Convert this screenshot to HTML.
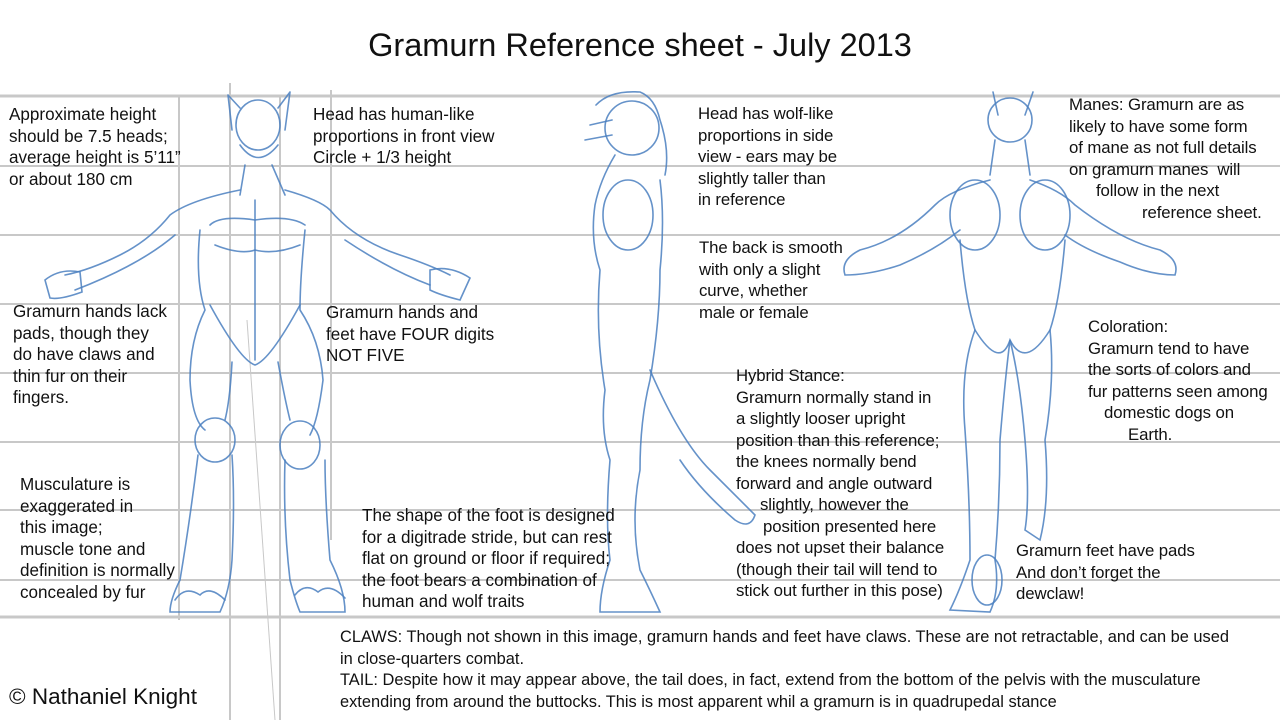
<!DOCTYPE html>
<html><head><meta charset="utf-8"><style>
body{margin:0;width:1280px;height:720px;background:#fff;overflow:hidden;position:relative;font-family:"Liberation Sans",sans-serif;color:#111}
.t{position:absolute;font-size:17.1px;line-height:21.5px;white-space:nowrap}
.n{font-size:16.8px;letter-spacing:-0.1px}
svg{position:absolute;left:0;top:0}
</style></head><body>
<svg width="1280" height="720">
<g stroke="#c8c8c8" stroke-width="2">
<line x1="0" y1="96" x2="1280" y2="96" stroke-width="3"/>
<line x1="0" y1="166" x2="1280" y2="166"/>
<line x1="0" y1="235" x2="1280" y2="235"/>
<line x1="0" y1="304" x2="1280" y2="304"/>
<line x1="0" y1="373" x2="1280" y2="373"/>
<line x1="0" y1="442" x2="1280" y2="442"/>
<line x1="0" y1="510" x2="1280" y2="510"/>
<line x1="0" y1="580" x2="1280" y2="580"/>
<line x1="0" y1="617" x2="1280" y2="617" stroke-width="3"/>
<line x1="179" y1="96" x2="179" y2="620"/>
<line x1="230" y1="83" x2="230" y2="720"/>
<line x1="280" y1="96" x2="280" y2="720"/>
<line x1="331" y1="90" x2="331" y2="540"/>
<line x1="247" y1="320" x2="275" y2="720" stroke-width="1"/>
</g>
<g fill="none" stroke="#4a7fc0" stroke-width="1.6" stroke-opacity="0.85" stroke-linecap="round">
<path d="M228 95 L240 108 M290 92 L278 108 M228 95 L232 130 M290 92 L285 130"/>
<ellipse cx="258" cy="125" rx="22" ry="25"/>
<path d="M240 145 Q258 170 278 145 M245 165 L240 195 M272 165 L285 195"/>
<path d="M240 190 Q190 200 170 215 Q150 240 120 255 Q90 270 65 275 M285 190 Q320 200 330 210 Q355 240 400 255 Q430 265 450 275"/>
<path d="M175 235 Q140 265 75 290 M345 240 Q390 270 430 285"/>
<path d="M45 280 Q60 268 80 272 L82 292 Q60 300 50 298 Z M430 270 Q450 265 470 278 L460 300 Q440 295 430 290 Z"/>
<path d="M200 230 Q195 280 205 310 Q190 340 190 380 Q192 420 205 430 M305 230 Q300 280 300 310 Q320 340 323 380 Q318 420 310 435"/>
<path d="M210 225 Q220 215 255 220 Q290 215 305 225 M215 245 Q240 255 255 250 Q275 255 300 245"/>
<path d="M210 305 Q240 360 255 365 Q270 360 300 305 M255 200 L255 360"/>
<path d="M232 362 Q230 400 225 420 M278 362 Q285 400 290 420"/>
<ellipse cx="215" cy="440" rx="20" ry="22"/><ellipse cx="300" cy="445" rx="20" ry="24"/>
<path d="M198 455 Q190 520 180 580 Q170 600 170 612 L220 612 Q230 590 232 560 Q235 500 232 455"/>
<path d="M285 460 Q283 520 290 580 Q295 600 300 612 L345 612 Q345 590 330 560 Q325 500 325 460"/>
<path d="M175 600 Q185 585 200 595 Q210 585 225 600 M295 595 Q305 582 318 592 Q330 582 345 598"/>
<circle cx="632" cy="128" r="27"/>
<path d="M590 125 L612 120 M585 140 L612 135 M596 105 Q610 90 640 92 Q655 98 660 120 Q670 150 665 175"/>
<path d="M615 155 Q600 180 595 205 Q590 240 600 270 Q595 330 605 390 Q600 430 610 460 Q605 520 610 560 Q600 590 600 612 L660 612 Q650 590 640 570 Q630 520 640 470 Q640 420 650 380 Q660 320 660 270 Q665 220 660 180"/>
<ellipse cx="628" cy="215" rx="25" ry="35"/>
<path d="M650 370 Q680 440 710 470 Q740 500 755 515 Q750 530 735 520 Q700 490 680 460"/>
<circle cx="1010" cy="120" r="22"/>
<path d="M993 92 L998 115 M1033 92 L1025 115 M995 140 L990 175 M1025 140 L1030 175"/>
<path d="M990 180 Q950 190 935 205 Q900 240 860 250 Q840 260 845 275 Q870 275 900 265 Q935 250 960 230 M1030 180 Q1060 190 1075 205 Q1120 240 1160 250 Q1180 260 1175 275 Q1150 275 1120 262 Q1085 250 1065 235"/>
<ellipse cx="975" cy="215" rx="25" ry="35"/><ellipse cx="1045" cy="215" rx="25" ry="35"/>
<path d="M960 240 Q965 300 975 330 Q960 370 965 430 Q970 500 970 560 Q960 590 950 610 L990 612 Q1000 590 995 560 Q1000 500 1000 440 Q1005 380 1010 340 Q1020 380 1025 440 Q1030 500 1025 530 L1040 540 Q1050 500 1045 440 Q1055 380 1050 330 Q1060 300 1065 240"/>
<path d="M975 330 Q1000 370 1010 340 Q1025 370 1050 330"/>
<ellipse cx="987" cy="580" rx="15" ry="25"/>
</g>
</svg>
<div style="position:absolute;left:0;width:1280px;top:27px;text-align:center;font-size:32.5px;color:#111">Gramurn Reference sheet - July 2013</div>
<div class="t" style="left:9px;top:104px">Approximate height<br>should be 7.5 heads;<br>average height is 5’11”<br>or about 180 cm</div>
<div class="t" style="left:313px;top:104px">Head has human-like<br>proportions in front view<br>Circle + 1/3 height</div>
<div class="t" style="left:13px;top:301px">Gramurn hands lack<br>pads, though they<br>do have claws and<br>thin fur on their<br>fingers.</div>
<div class="t" style="left:326px;top:302px">Gramurn hands and<br>feet have FOUR digits<br>NOT FIVE</div>
<div class="t" style="left:20px;top:474px">Musculature is<br>exaggerated in<br>this image;<br>muscle tone and<br>definition is normally<br>concealed by fur</div>
<div class="t" style="left:362px;top:505px">The shape of the foot is designed<br>for a digitrade stride, but can rest<br>flat on ground or floor if required;<br>the foot bears a combination of<br>human and wolf traits</div>
<div class="t n" style="left:698px;top:103px">Head has wolf-like<br>proportions in side<br>view - ears may be<br>slightly taller than<br>in reference</div>
<div class="t n" style="left:699px;top:237px">The back is smooth<br>with only a slight<br>curve, whether<br>male or female</div>
<div class="t n" style="left:736px;top:365px">Hybrid Stance:<br>Gramurn normally stand in<br>a slightly looser upright<br>position than this reference;<br>the knees normally bend<br>forward and angle outward<br><span style="padding-left:24px">slightly, however the</span><br><span style="padding-left:27px">position presented here</span><br>does not upset their balance<br>(though their tail will tend to<br>stick out further in this pose)</div>
<div class="t n" style="left:1069px;top:94px">Manes: Gramurn are as<br>likely to have some form<br>of mane as not full details<br>on gramurn manes &nbsp;will<br><span style="padding-left:27px">follow in the next</span><br><span style="padding-left:73px">reference sheet.</span></div>
<div class="t n" style="left:1088px;top:316px">Coloration:<br>Gramurn tend to have<br>the sorts of colors and<br>fur patterns seen among<br><span style="padding-left:16px">domestic dogs on</span><br><span style="padding-left:40px">Earth.</span></div>
<div class="t n" style="left:1016px;top:540px">Gramurn feet have pads<br>And don’t forget the<br>dewclaw!</div>
<div class="t" style="left:340px;top:627px;font-size:16.4px">CLAWS: Though not shown in this image, gramurn hands and feet have claws. These are not retractable, and can be used<br>in close-quarters combat.<br>TAIL: Despite how it may appear above, the tail does, in fact, extend from the bottom of the pelvis with the musculature<br>extending from around the buttocks. This is most apparent whil a gramurn is in quadrupedal stance</div>
<div class="t" style="left:9px;top:684px;font-size:22.5px;line-height:26px">© Nathaniel Knight</div>
</body></html>
